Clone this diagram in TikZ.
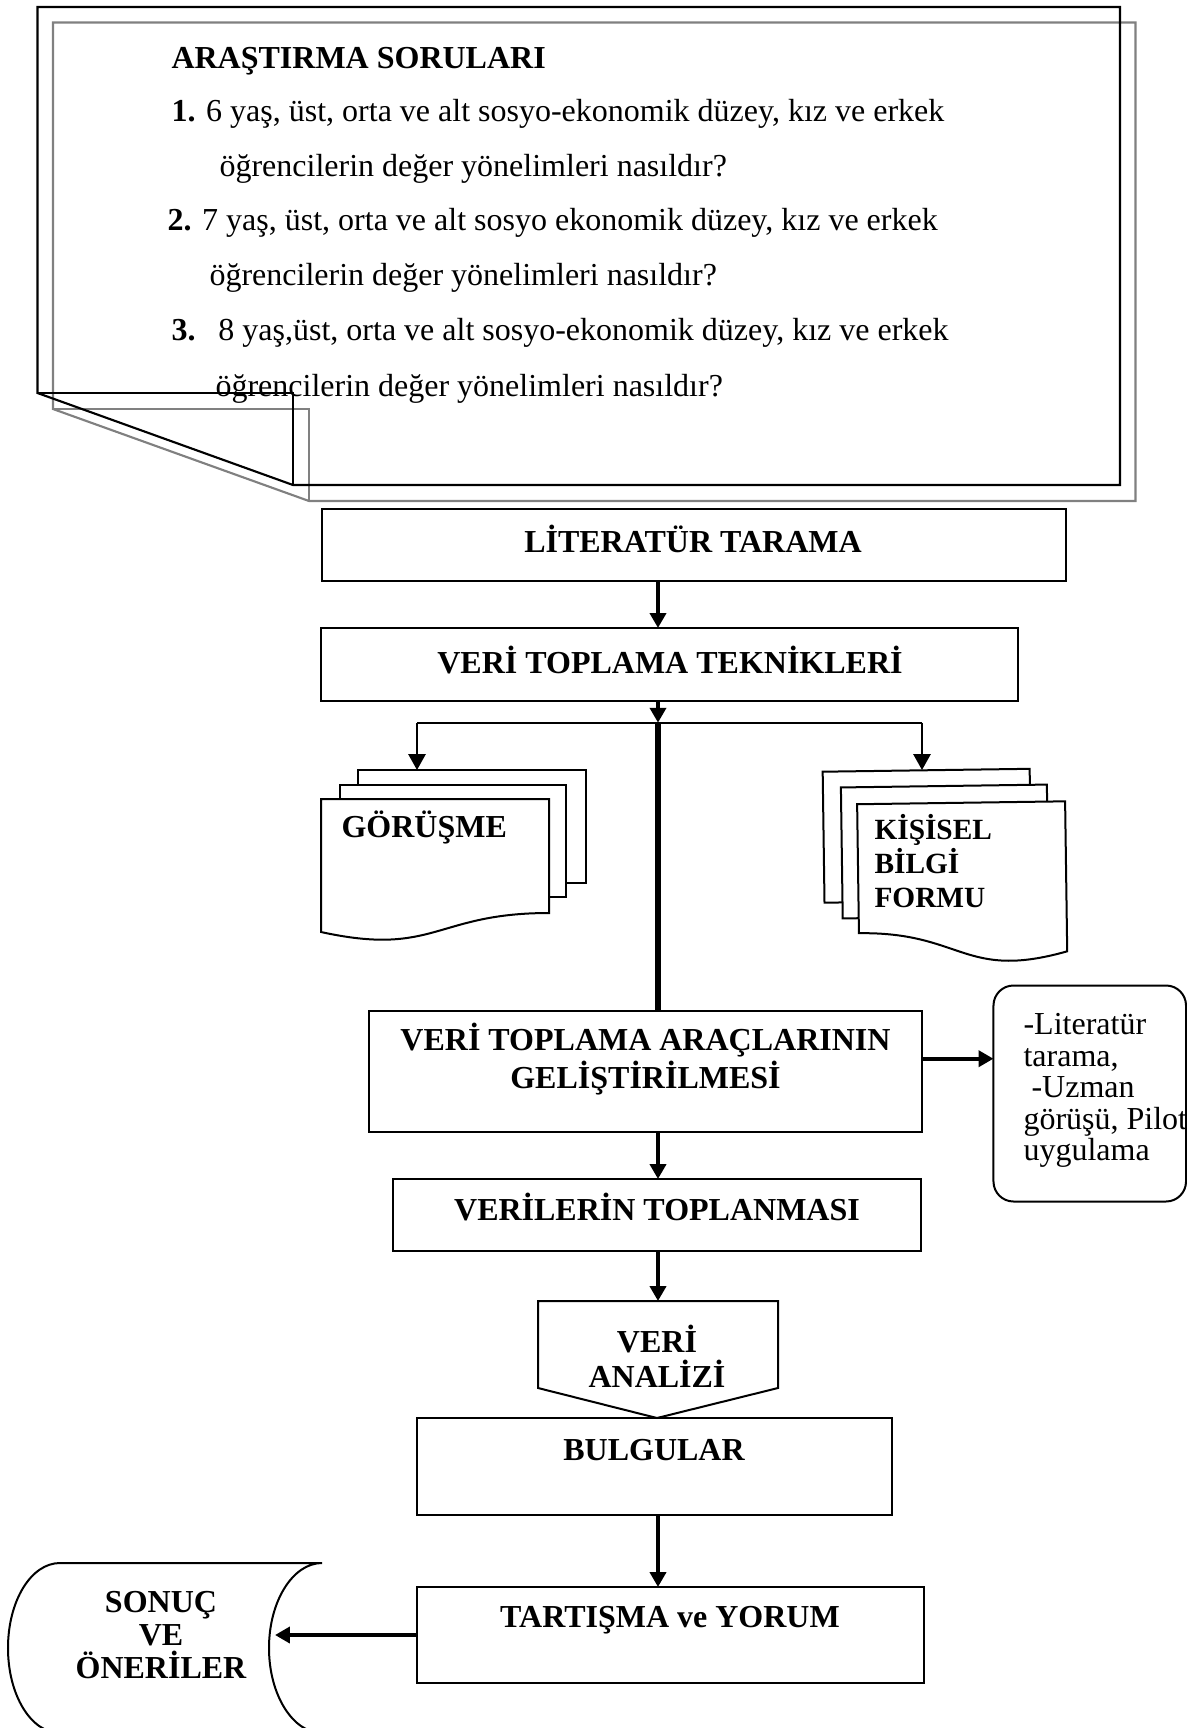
\documentclass[tikz,border=0pt]{standalone}
\usepackage{fontspec}
\setmainfont{Liberation Serif}
\usetikzlibrary{arrows.meta}
\tikzstyle{box}=[rectangle,draw=black,line width=0.75pt,inner sep=0pt,outer sep=0pt]
\tikzstyle{note}=[box,rounded corners=7.5pt]
\tikzstyle{page}=[draw=black,fill=white,line width=0.75pt]
\tikzstyle{sheet}=[line width=0.8pt]
\tikzstyle{lbl}=[inner sep=0pt,anchor=base,align=center,font=\fontsize{12}{14}\selectfont\bfseries]
\tikzstyle{txt}=[inner sep=0pt,anchor=base west,font=\fontsize{12}{14}\selectfont]
\tikzstyle{arrow}=[->,>={Triangle[length=5.6pt,width=6pt]},line width=1.5pt]
\tikzstyle{branch}=[->,>={Triangle[length=6pt,width=6.5pt]},line width=0.75pt]
\tikzset{every picture/.style={x=0.375pt,y=-0.375pt}}
\begin{document}
\begin{tikzpicture}
      \useasboundingbox (0,0) rectangle (1187,1728);
      \clip (0,0) rectangle (1187,1728);
      \draw[sheet,gray] (53,22.5) -- (1135.5,22.5) -- (1135.5,501) -- (309,501) -- (53,409) -- cycle;
      \draw[sheet,gray] (53,409) -- (309,409) -- (309,501);
      \draw[sheet] (37.5,7) -- (1120,7) -- (1120,485) -- (293,485) -- (37.5,393) -- cycle;
      \draw[sheet] (37.5,393) -- (293,393) -- (293,485);
      \node[txt,font=\fontsize{12}{14}\selectfont\bfseries] at (171,68) (q0) {ARAŞTIRMA SORULARI};
      \node[txt] at (171,121) (q1) {\textbf{1.} 6 yaş, üst, orta ve alt sosyo-ekonomik düzey, kız ve erkek};
      \node[txt] at (219,176) (q1b) {öğrencilerin değer yönelimleri nasıldır?};
      \node[txt] at (167,230) (q2) {\textbf{2.} 7 yaş, üst, orta ve alt sosyo ekonomik düzey, kız ve erkek};
      \node[txt] at (209,285) (q2b) {öğrencilerin değer yönelimleri nasıldır?};
      \node[txt] at (171,340) (q3) {\textbf{3.}\hspace*{8.6pt}8 yaş,üst, orta ve alt sosyo-ekonomik düzey, kız ve erkek};
      \node[txt] at (215,396) (q3b) {öğrencilerin değer yönelimleri nasıldır?};
      \node[box,minimum width=279pt,minimum height=27pt] at (693.5,545) (lit) {};
      \node[box,minimum width=261.2pt,minimum height=27.4pt] at (669.75,664.5) (vtt) {};
      \node[box,minimum width=207.4pt,minimum height=45.4pt] at (645.5,1071.5) (arac) {};
      \node[box,minimum width=198pt,minimum height=27pt] at (657,1215) (vtop) {};
      \node[box,minimum width=178.1pt,minimum height=36.4pt] at (654.5,1466.5) (bulg) {};
      \node[box,minimum width=190.1pt,minimum height=36pt] at (670.5,1635) (tart) {};
      \node[note,minimum width=72.2pt,minimum height=81pt] at (1089.75,1093.5) (note) {};
      \node[lbl] at (693,552) (littxt) {LİTERATÜR TARAMA};
      \node[lbl] at (670,673.5) (vtttxt) {VERİ TOPLAMA TEKNİKLERİ};
      \node[lbl,font=\fontsize{12}{14.25}\selectfont\bfseries] at (645.5,1088.5) (aractxt) {VERİ TOPLAMA ARAÇLARININ\\GELİŞTİRİLMESİ};
      \node[lbl] at (657,1220.5) (vtoptxt) {VERİLERİN TOPLANMASI};
      \node[lbl] at (654,1460.5) (bulgtxt) {BULGULAR};
      \node[lbl] at (670,1627) (tarttxt) {TARTIŞMA ve YORUM};
      \node[txt,align=left,font=\fontsize{12}{11.8}\selectfont] at (1023,1160.5) (notetxt) {-Literatür\\tarama,\\\hspace*{3pt}-Uzman\\görüşü, Pilot\\uygulama};
      \draw[page] (358,770) rectangle (586,883);
      \draw[page] (340,785) rectangle (566,897);
      \draw[page] (321,799) -- (549,799) -- (549,913) .. controls (435,913) and (435,957) .. (321,932) -- cycle;
      \node[txt,font=\fontsize{12}{14}\selectfont\bfseries] at (341,837) (gortxt) {GÖRÜŞME};
      \draw[page,rotate around={0.8:(945,866)}] (824,770) rectangle (1031,901);
      \draw[page,rotate around={0.8:(945,866)}] (842,786) rectangle (1048,917);
      \draw[page,rotate around={0.8:(945,866)}] (858,803) -- (1066,803) -- (1066,953) .. controls (962,981) and (962,932) .. (858,932) -- cycle;
      \node[txt,align=left,font=\fontsize{11}{12.75}\selectfont\bfseries] at (874,907) (kistxt) {KİŞİSEL\\BİLGİ\\FORMU};
      \draw[box] (538,1301) -- (778,1301) -- (778,1388) -- (657,1418) -- (538,1388) -- cycle;
      \node[lbl,font=\fontsize{12}{13.1}\selectfont\bfseries] at (657,1387) (analiz) {VERİ\\ANALİZİ};
      \draw[box] (322,1563) .. controls (293,1563) and (269,1601) .. (269,1648) .. controls (269,1695) and (293,1733) .. (322,1733) -- (60,1733) .. controls (31,1733) and (8,1695) .. (8,1648) .. controls (8,1601) and (31,1563) .. (60,1563) -- cycle;
      \node[lbl,font=\fontsize{12}{12.4}\selectfont\bfseries] at (161,1678.5) (sonuc) {SONUÇ\\VE\\ÖNERİLER};
      \coordinate (spine) at (658,0);
      \coordinate (junc) at (658,722.7);
      \coordinate (gorin) at (417,770);
      \coordinate (kisin) at (922,770);
      \coordinate (analiztop) at (658,1301);
      \coordinate (sonucin) at (275,1635);
      \coordinate (tonote) at ([yshift=4.8pt]arac.east);
      \draw[arrow] (lit.south -| spine) -- (vtt.north -| spine);
      \draw[arrow] (vtt.south -| spine) -- (junc);
      \draw[line width=0.75pt] (gorin |- junc) -- (kisin |- junc);
      \draw[branch] (gorin |- junc) -- (gorin);
      \draw[branch] (kisin |- junc) -- (kisin);
      \draw[line width=2.25pt] (junc) -- (arac.north -| spine);
      \draw[arrow] (arac.south -| spine) -- (vtop.north -| spine);
      \draw[arrow] (tonote) -- (tonote -| note.west);
      \draw[arrow] (vtop.south -| spine) -- (analiztop);
      \draw[arrow] (bulg.south -| spine) -- (tart.north -| spine);
      \draw[arrow] (tart.west) -- (sonucin);
\end{tikzpicture}
\end{document}
